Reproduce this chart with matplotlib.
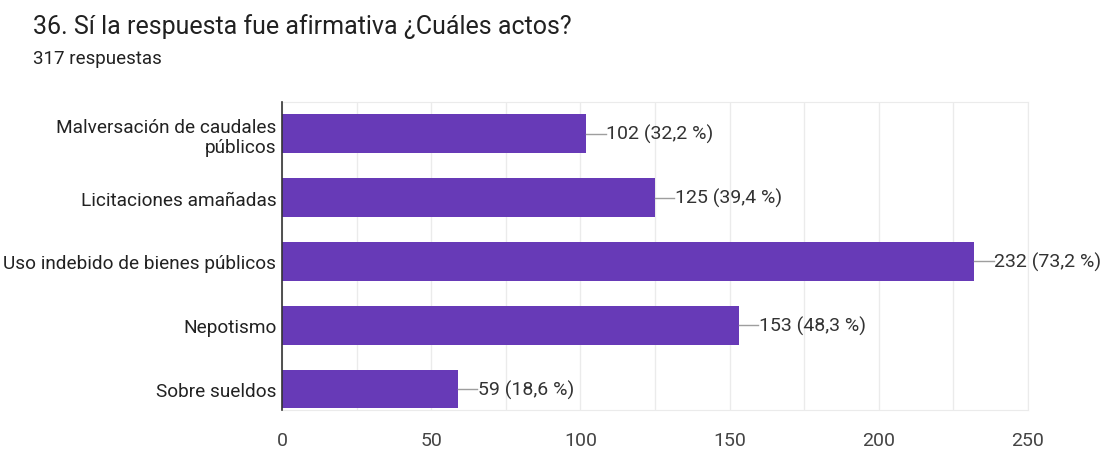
import matplotlib
matplotlib.use("Agg")
import matplotlib.pyplot as plt
from matplotlib.ticker import MultipleLocator

plt.rcParams["font.family"] = ["Roboto", "DejaVu Sans"]

categories = ["Malversación de caudales\npúblicos", "Licitaciones amañadas",
              "Uso indebido de bienes públicos", "Nepotismo", "Sobre sueldos"]
counts = [102, 125, 232, 153, 59]
pcts = ["32,2", "39,4", "73,2", "48,3", "18,6"]
title = "36. Sí la respuesta fue afirmativa ¿Cuáles actos?"
subtitle = "317 respuestas"

W, H = 1104, 452
fig = plt.figure(figsize=(W / 100, H / 100), dpi=100)
ax = fig.add_axes([282 / W, 41 / H, 746 / W, 308 / H])

y = range(len(categories))
ax.barh(y, counts, height=0.61, color="#673AB7", zorder=3)
ax.set_xlim(0, 250)
ax.set_ylim(4.33, -0.5)

for yi, c, p in zip(y, counts, pcts):
    ax.plot([c, c + 6.5], [yi, yi], color="#9e9e9e", lw=1, zorder=3, clip_on=False)
    ax.text(c + 6.7, yi, f"{c} ({p} %)", va="center", ha="left",
            fontsize=14, color="#333333")

ax.xaxis.set_major_locator(MultipleLocator(50))
ax.xaxis.set_minor_locator(MultipleLocator(25))
ax.grid(axis="x", which="both", color="#ebebeb", lw=1, zorder=0)
ax.set_yticks(list(y))
ax.set_yticklabels(categories, fontsize=13.7, color="#222222", ha="right",
                   multialignment="right", linespacing=1.15)
ax.tick_params(axis="y", length=0, pad=4)
ax.tick_params(axis="x", which="both", length=0, labelsize=14,
               labelcolor="#444444", pad=15)
for s in ["top", "right", "bottom"]:
    ax.spines[s].set_color("#ebebeb")
ax.spines["left"].set_color("#333333")
ax.spines["left"].set_linewidth(1.2)
ax.spines["left"].set_zorder(4)

fig.text(33 / W, 1 - 27 / H, title, fontsize=18, color="#212121", va="center")
fig.text(33 / W, 1 - 59 / H, subtitle, fontsize=13.5, color="#212121", va="center")

fig.savefig("out.png", dpi=100)
